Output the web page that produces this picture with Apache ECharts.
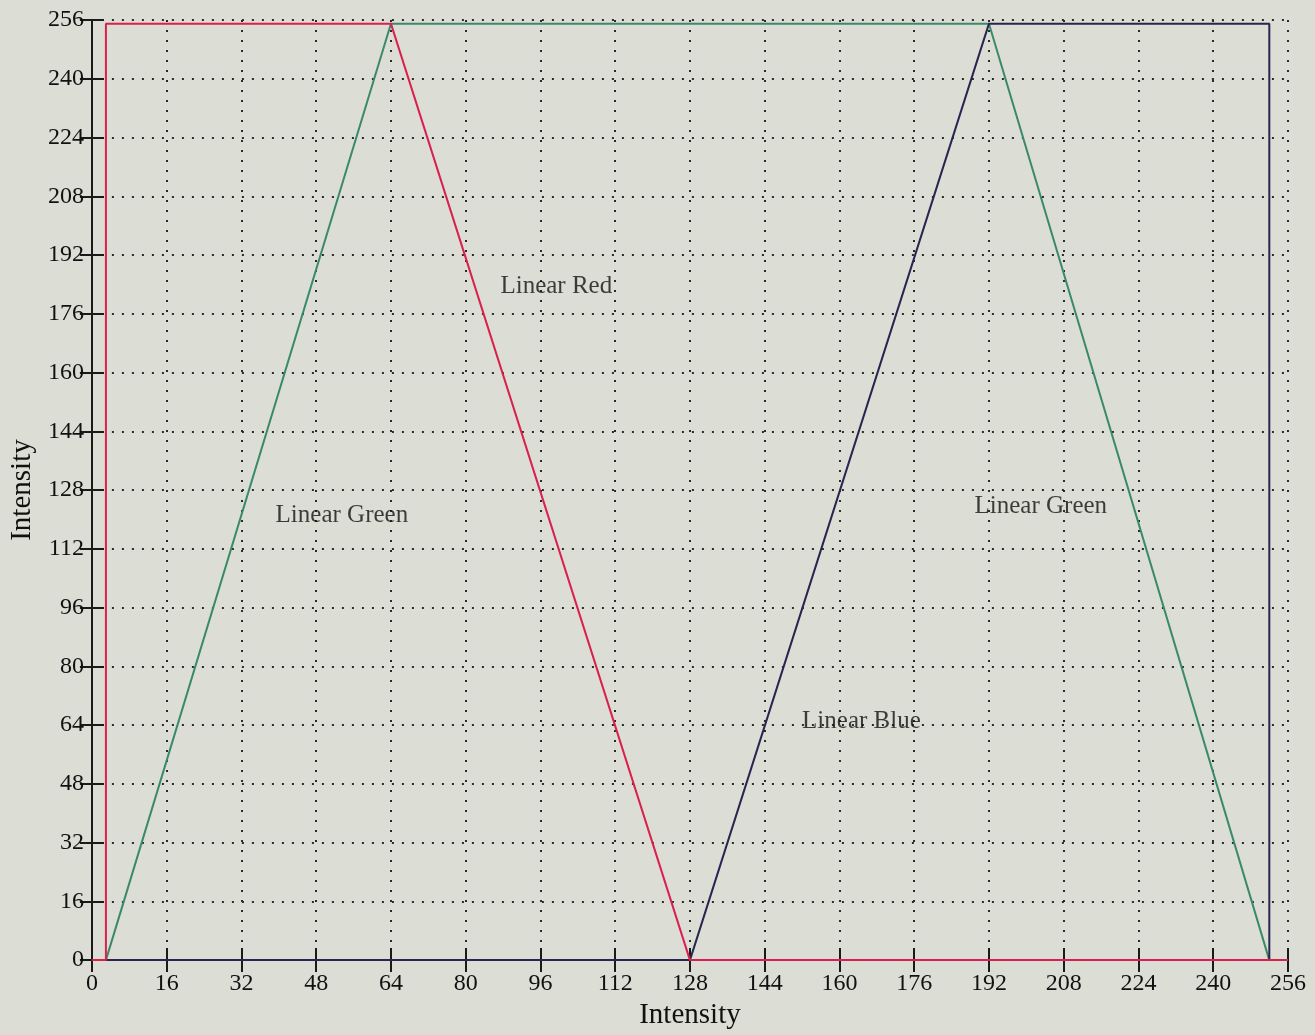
<!DOCTYPE html>
<html><head><meta charset="utf-8">
<script src="https://cdn.jsdelivr.net/npm/echarts@6/dist/echarts.min.js"></script>
<style>html,body{margin:0;padding:0;background:#dcddd5;overflow:hidden;}#c{width:1315px;height:1035px;}</style>
</head><body><div id="c"></div>
<script>
const redData = [[0,0],[3,0],[3,255],[64,255],[128,0],[256,0]];
const greenData = [[0,0],[3,0],[64,255],[192,255],[252,0],[256,0]];
const blueData = [[0,0],[128,0],[192,255],[252,255],[252,0],[256,0]];
const annotations = [
  {name:'Linear Red', value:[99.4,183.4]},
  {name:'Linear Green', value:[53.5,121.1]},
  {name:'Linear Blue', value:[164.7,65]},
  {name:'Linear Green', value:[203.1,123.5]}
];
const axisMin = 0, axisMax = 256, axisStep = 16;
const axisTitle = 'Intensity';

const font = '"Liberation Serif", "DejaVu Serif", serif';
const chart = echarts.init(document.getElementById('c'), null, {width:1315, height:1035});
const baseAxis = {
  type:'value', min:axisMin, max:axisMax, interval:axisStep,
  axisLine:{show:true, lineStyle:{color:'#1a1a1a', width:2}},
  axisTick:{show:true, inside:true, length:12, lineStyle:{color:'#1a1a1a', width:2}},
};
chart.setOption({
  backgroundColor:'#dcddd5',
  animation:false,
  grid:{left:88, top:20, width:1200, height:949, containLabel:false},
  xAxis:[
    Object.assign({}, baseAxis, {
      position:'bottom',
      name:axisTitle, nameLocation:'middle', nameGap:31,
      nameTextStyle:{fontFamily:font, fontSize:29, color:'#111'},
      axisLabel:{fontFamily:font, fontSize:24, color:'#111', margin:12},
      splitLine:{show:true, lineStyle:{color:'#2a2a2a', type:[2,8], width:2}}
    }),
    Object.assign({}, baseAxis, {position:'top', axisLabel:{show:false}, splitLine:{show:false}})
  ],
  yAxis:[
    Object.assign({}, baseAxis, {
      position:'left',
      name:axisTitle, nameLocation:'middle', nameGap:52,
      nameTextStyle:{fontFamily:font, fontSize:29, color:'#111'},
      axisLabel:{fontFamily:font, fontSize:24, color:'#111', margin:8},
      splitLine:{show:true, lineStyle:{color:'#2a2a2a', type:[2,8], width:2}}
    }),
    Object.assign({}, baseAxis, {position:'right', axisLabel:{show:false}, splitLine:{show:false}})
  ],
  series:[
    {type:'line', data:greenData, showSymbol:false, lineStyle:{color:'#3a8a68', width:2}, itemStyle:{color:'#3a8a68'}, z:3},
    {type:'line', data:blueData, showSymbol:false, lineStyle:{color:'#262650', width:2}, itemStyle:{color:'#262650'}, z:4},
    {type:'line', data:redData, showSymbol:false, lineStyle:{color:'#d8214c', width:2}, itemStyle:{color:'#d8214c'}, z:5},
    {type:'scatter', data:annotations, symbolSize:0, z:6,
      label:{show:true, position:'inside', formatter:p=>p.name, fontFamily:font, fontSize:25, color:'#111', textBorderWidth:0}}
  ]
});
</script></body></html>
